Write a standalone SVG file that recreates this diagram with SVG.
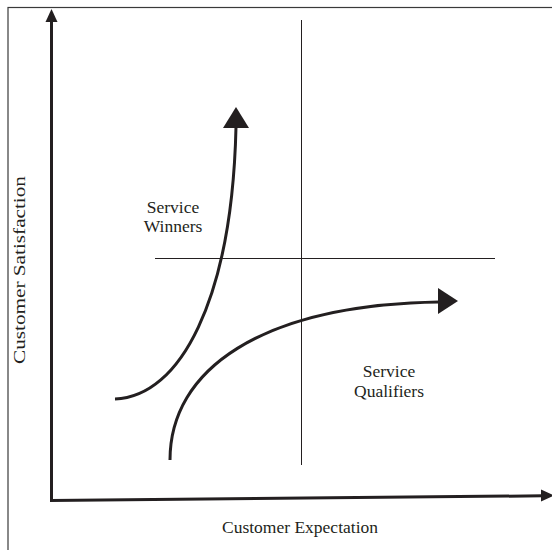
<svg xmlns="http://www.w3.org/2000/svg" width="552" height="550" viewBox="0 0 552 550">
  <style>
    .frame { fill: none; stroke: #3a3a3a; stroke-width: 1.2; }
    .axis { fill: none; stroke: #231f20; stroke-width: 3; }
    .grid { fill: none; stroke: #231f20; stroke-width: 1; }
    .curve { fill: none; stroke: #231f20; stroke-width: 3; stroke-linecap: butt; }
    .head { fill: #231f20; }
    .label { font-family: "Liberation Serif", "Times New Roman", serif; font-size: 17.5px; fill: #231f20; }
  </style>
  <rect width="552" height="550" fill="#ffffff"/>
  <rect class="frame" x="8" y="7.5" width="580" height="580"/>

  <g id="connectors">
    <!-- axes -->
    <polyline class="axis" points="51.5,22 51.5,500.5 543,495.8"/>
    <polygon class="head" points="51.5,9 45.5,22 57.5,22"/>
    <polygon class="head" points="554,495.5 541,489.5 541,501.5"/>
    <!-- quadrant dividers -->
    <line class="grid" x1="301.5" y1="20" x2="301.5" y2="465"/>
    <line class="grid" x1="155" y1="258.5" x2="495" y2="258.5"/>
    <!-- service winners curve -->
    <path class="curve" d="M115,399 C180,397 232,300 236,127"/>
    <polygon class="head" points="236,107 223,128 249,128"/>
    <!-- service qualifiers curve -->
    <path class="curve" d="M170,460 C170,370 260,305 439,302"/>
    <polygon class="head" points="458,301 438,288 438,314"/>
  </g>

  <g id="winners">
    <text class="label" x="173" y="213" text-anchor="middle">Service</text>
    <text class="label" x="173" y="232" text-anchor="middle">Winners</text>
  </g>
  <g id="qualifiers">
    <text class="label" x="389" y="377" text-anchor="middle">Service</text>
    <text class="label" x="389" y="397" text-anchor="middle">Qualifiers</text>
  </g>
  <g id="x-label">
    <text class="label" x="300" y="533" text-anchor="middle" font-size="18">Customer Expectation</text>
  </g>
  <g id="y-label">
    <text class="label" transform="translate(25,270) rotate(-90)" x="0" y="0" text-anchor="middle" font-size="18" textLength="188" lengthAdjust="spacingAndGlyphs">Customer Satisfaction</text>
  </g>
</svg>
